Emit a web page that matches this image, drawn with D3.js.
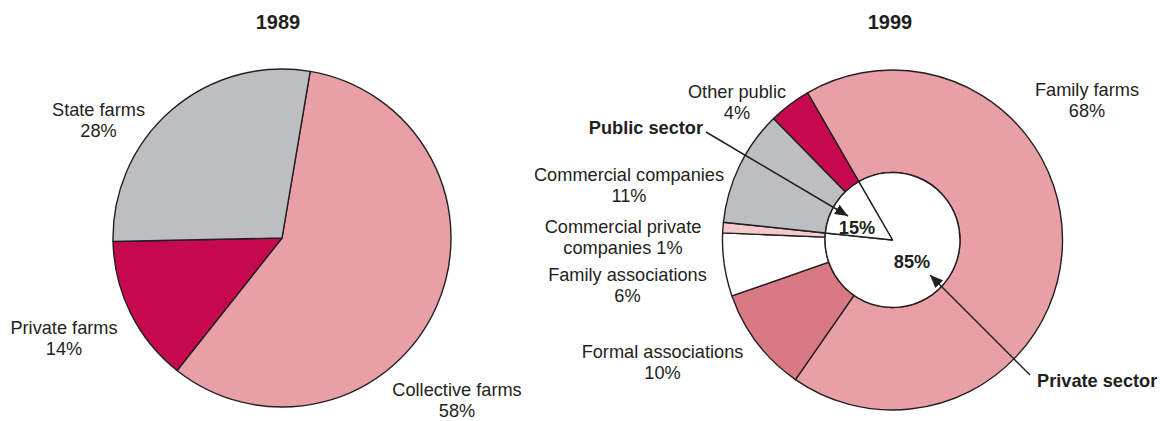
<!DOCTYPE html>
<html>
<head>
<meta charset="utf-8">
<script src="https://cdn.jsdelivr.net/npm/d3@7/dist/d3.min.js"></script>
<style>
  html, body { margin: 0; padding: 0; background: #fff; }
  svg text { font-family: "Liberation Sans", Arial, Helvetica, sans-serif; fill: #231f20; }
</style>
</head>
<body>
<svg id="chart" width="1160" height="421"></svg>
<script>
// ---- data ----
const years = ["1989", "1999"];

const farms1989 = ["Collective farms", "Private farms", "State farms"];
const shares1989 = [58, 14, 28];
const labels1989 = [["Collective farms", "58%"], ["Private farms", "14%"], ["State farms", "28%"]];

const farms1999 = ["Family farms", "Formal associations", "Family associations",
                   "Commercial private companies", "Commercial companies", "Other public"];
const shares1999 = [68, 10, 6, 1, 11, 4];
const labels1999 = [["Family farms", "68%"], ["Formal associations", "10%"], ["Family associations", "6%"],
                    ["Commercial private", "companies 1%"], ["Commercial companies", "11%"], ["Other public", "4%"]];

const sectors = ["Private sector", "Public sector"];
const sectorShares = [85, 15];

// ---- styles ----
const colors1989 = { "Collective farms": "#e8a0a6", "Private farms": "#c6094f", "State farms": "#bdbec1" };
const colors1999 = { "Family farms": "#e8a0a6", "Formal associations": "#d97984", "Family associations": "#ffffff",
                     "Commercial private companies": "#f4cacd", "Commercial companies": "#bdbec1", "Other public": "#c6094f" };
const stroke = "#231f20";
const labelSize = 18.2;
const deg = Math.PI / 180;

const svg = d3.select("#chart");

svg.append("defs").append("marker")
  .attr("id", "arrow").attr("viewBox", "0 0 12 10").attr("refX", 12).attr("refY", 5)
  .attr("markerUnits", "userSpaceOnUse").attr("markerWidth", 13).attr("markerHeight", 11)
  .attr("orient", "auto")
  .append("path").attr("d", "M0,0 L12,5 L0,10 Z").attr("fill", stroke);

// ---- titles ----
const titleX = [278, 890];
svg.selectAll("text.title").data(years).join("text")
  .attr("class", "title")
  .attr("x", (d, i) => titleX[i]).attr("y", 29)
  .attr("text-anchor", "middle")
  .style("font-size", "20px").style("font-weight", "bold")
  .text(d => d);

function twoLineLabel(g, lines, x, y, opts = {}) {
  const t = g.append("text").attr("x", x).attr("y", y)
    .attr("text-anchor", opts.anchor || "middle")
    .style("font-size", (opts.size || labelSize) + "px")
    .style("font-weight", opts.bold ? "bold" : "normal");
  lines.forEach((s, i) => t.append("tspan").attr("x", x).attr("dy", i === 0 ? 0 : 21).text(s));
  return t;
}

// ---- 1989 pie ----
{
  const cx = 282, cy = 238, r = 169;
  const pie = d3.pie().sort(null).value(d => d.v).startAngle(9.6 * deg).endAngle(369.6 * deg);
  const arcs = pie(farms1989.map((k, i) => ({ k, v: shares1989[i] })));
  const arc = d3.arc().innerRadius(0).outerRadius(r);
  const g = svg.append("g").attr("transform", `translate(${cx},${cy})`);
  g.selectAll("path").data(arcs).join("path")
    .attr("d", arc)
    .attr("fill", d => colors1989[d.data.k])
    .attr("stroke", stroke).attr("stroke-width", 1.4).attr("stroke-linejoin", "round");

  const pos = [[457, 396], [64, 334], [98.5, 116]];
  labels1989.forEach((l, i) => twoLineLabel(svg, l, pos[i][0], pos[i][1]));
}

// ---- 1999 ring + sector pie ----
{
  const cx = 892.5, cy = 240, r = 170, r0 = 67.5;
  const pie = d3.pie().sort(null).value(d => d.v).startAngle(-30 * deg).endAngle(330 * deg);
  const arcs = pie(farms1999.map((k, i) => ({ k, v: shares1999[i] })));
  const arc = d3.arc().innerRadius(r0).outerRadius(r);
  const g = svg.append("g").attr("transform", `translate(${cx},${cy})`);
  g.selectAll("path.outer").data(arcs).join("path")
    .attr("class", "outer")
    .attr("d", arc)
    .attr("fill", d => colors1999[d.data.k])
    .attr("stroke", stroke).attr("stroke-width", 1.4).attr("stroke-linejoin", "round");

  // inner split: private vs public
  const innerPie = d3.pie().sort(null).value(d => d.v).startAngle(-30 * deg).endAngle(330 * deg);
  const innerArcs = innerPie(sectors.map((k, i) => ({ k, v: sectorShares[i] })));
  const innerArc = d3.arc().innerRadius(0).outerRadius(r0);
  g.selectAll("path.inner").data(innerArcs).join("path")
    .attr("class", "inner")
    .attr("d", innerArc)
    .attr("fill", "#fff")
    .attr("stroke", stroke).attr("stroke-width", 1.4).attr("stroke-linejoin", "round");

  // sector percentages inside the circle
  const pctPos = { "Private sector": [19.5, 28], "Public sector": [-35.5, -6] };
  g.selectAll("text.pct").data(innerArcs).join("text")
    .attr("class", "pct")
    .attr("x", d => pctPos[d.data.k][0]).attr("y", d => pctPos[d.data.k][1])
    .attr("text-anchor", "middle")
    .style("font-size", labelSize + "px").style("font-weight", "bold")
    .text(d => d.data.v + "%");

  const pos = [[1087, 96], [662.5, 358], [627.5, 281], [623, 233], [629, 181], [737, 98]];
  labels1999.forEach((l, i) => twoLineLabel(svg, l, pos[i][0], pos[i][1]));

  // sector callouts with arrows
  svg.append("text").attr("x", 703).attr("y", 134).attr("text-anchor", "end")
    .style("font-size", labelSize + "px").style("font-weight", "bold").text(sectors[1]);
  svg.append("line").attr("x1", 706).attr("y1", 132).attr("x2", 848).attr("y2", 216)
    .attr("stroke", stroke).attr("stroke-width", 1.5).attr("marker-end", "url(#arrow)");

  svg.append("text").attr("x", 1037).attr("y", 387).attr("text-anchor", "start")
    .style("font-size", labelSize + "px").style("font-weight", "bold").text(sectors[0]);
  svg.append("line").attr("x1", 1030).attr("y1", 375).attr("x2", 930).attr("y2", 275)
    .attr("stroke", stroke).attr("stroke-width", 1.5).attr("marker-end", "url(#arrow)");
}
</script>
</body>
</html>
